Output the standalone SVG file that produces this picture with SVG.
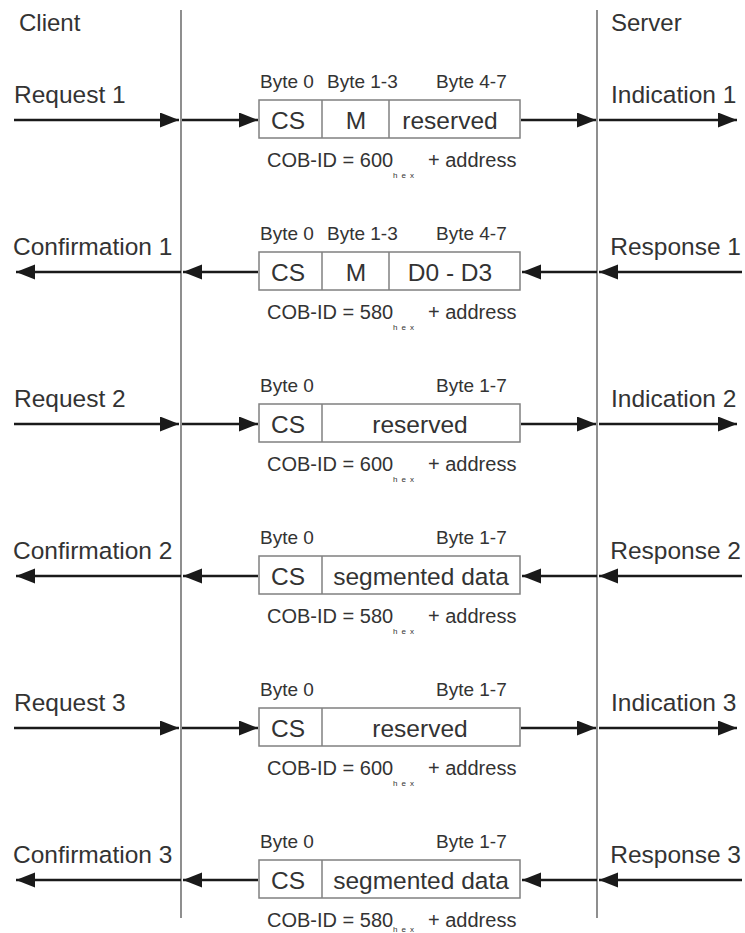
<svg xmlns="http://www.w3.org/2000/svg" width="745" height="933" viewBox="0 0 745 933">
  <style>
    text { font-family: "Liberation Sans", Arial, sans-serif; fill: #333333; }
    .lbl { font-size: 24.5px; }
    .hdr { font-size: 24px; }
    .byte { font-size: 19px; }
    .cell { font-size: 24.5px; text-anchor: middle; }
    .cob { font-size: 20px; }
    .hex { font-size: 8px; letter-spacing: 4px; }
    .end { text-anchor: end; }
    .frame { fill: #ffffff; stroke: #808080; stroke-width: 1.5; }
    .div { stroke: #808080; stroke-width: 1.5; }
    .life { stroke: #444444; stroke-width: 1.2; }
    .arr { stroke: #1a1a1a; stroke-width: 2.5; fill: none; marker-end: url(#head); }
  </style>
  <defs>
    <marker id="head" markerUnits="userSpaceOnUse" markerWidth="20" markerHeight="16" refX="19" refY="7.5" orient="auto">
      <path d="M0,0 L19,7.5 L0,15 Z" fill="#1a1a1a"/>
    </marker>
  </defs>
  <rect width="745" height="933" fill="#ffffff"/>

  <!-- lifelines -->
  <g id="lifelines">
    <line class="life" x1="181" y1="10" x2="181" y2="918"/>
    <line class="life" x1="597" y1="10" x2="597" y2="918"/>
    <text class="hdr" x="19" y="31">Client</text>
    <text class="hdr" x="611" y="31">Server</text>
  </g>

  <!-- connectors -->
  <g id="connectors">
    <!-- row 1: request -->
    <line class="arr" x1="14" y1="120" x2="179" y2="120"/>
    <line class="arr" x1="182" y1="120" x2="258" y2="120"/>
    <line class="arr" x1="521" y1="120" x2="596" y2="120"/>
    <line class="arr" x1="599" y1="120" x2="737" y2="120"/>
    <!-- row 2: response -->
    <line class="arr" x1="181" y1="272" x2="16" y2="272"/>
    <line class="arr" x1="258" y1="272" x2="183" y2="272"/>
    <line class="arr" x1="597" y1="272" x2="522" y2="272"/>
    <line class="arr" x1="742" y1="272" x2="599" y2="272"/>
    <!-- row 3 -->
    <line class="arr" x1="14" y1="424" x2="179" y2="424"/>
    <line class="arr" x1="182" y1="424" x2="258" y2="424"/>
    <line class="arr" x1="521" y1="424" x2="596" y2="424"/>
    <line class="arr" x1="599" y1="424" x2="737" y2="424"/>
    <!-- row 4 -->
    <line class="arr" x1="181" y1="576" x2="16" y2="576"/>
    <line class="arr" x1="258" y1="576" x2="183" y2="576"/>
    <line class="arr" x1="597" y1="576" x2="522" y2="576"/>
    <line class="arr" x1="742" y1="576" x2="599" y2="576"/>
    <!-- row 5 -->
    <line class="arr" x1="14" y1="728" x2="179" y2="728"/>
    <line class="arr" x1="182" y1="728" x2="258" y2="728"/>
    <line class="arr" x1="521" y1="728" x2="596" y2="728"/>
    <line class="arr" x1="599" y1="728" x2="737" y2="728"/>
    <!-- row 6 -->
    <line class="arr" x1="181" y1="880" x2="16" y2="880"/>
    <line class="arr" x1="258" y1="880" x2="183" y2="880"/>
    <line class="arr" x1="597" y1="880" x2="522" y2="880"/>
    <line class="arr" x1="742" y1="880" x2="599" y2="880"/>
  </g>

  <!-- row 1 -->
  <g id="request1">
    <text class="lbl" x="14" y="103">Request 1</text>
    <text class="lbl" x="611" y="103">Indication 1</text>
    <text class="byte" x="260" y="88">Byte 0</text>
    <text class="byte" x="327" y="88">Byte 1-3</text>
    <text class="byte" x="436" y="88">Byte 4-7</text>
    <rect class="frame" x="259" y="100" width="261" height="38"/>
    <line class="div" x1="322" y1="100" x2="322" y2="138"/>
    <line class="div" x1="389" y1="100" x2="389" y2="138"/>
    <text class="cell" x="288" y="129">CS</text>
    <text class="cell" x="356" y="129">M</text>
    <text class="cell" x="450" y="129">reserved</text>
    <text class="cob" x="267" y="166.5">COB-ID = 600</text>
    <text class="hex" x="393" y="178">hex</text>
    <text class="cob" x="428" y="166.5">+ address</text>
  </g>

  <!-- row 2 -->
  <g id="response1">
    <text class="lbl" x="13" y="255">Confirmation 1</text>
    <text class="lbl end" x="741" y="255">Response 1</text>
    <text class="byte" x="260" y="240">Byte 0</text>
    <text class="byte" x="327" y="240">Byte 1-3</text>
    <text class="byte" x="436" y="240">Byte 4-7</text>
    <rect class="frame" x="259" y="252" width="261" height="38"/>
    <line class="div" x1="322" y1="252" x2="322" y2="290"/>
    <line class="div" x1="389" y1="252" x2="389" y2="290"/>
    <text class="cell" x="288" y="281">CS</text>
    <text class="cell" x="356" y="281">M</text>
    <text class="cell" x="450" y="281">D0 - D3</text>
    <text class="cob" x="267" y="318.5">COB-ID = 580</text>
    <text class="hex" x="393" y="330">hex</text>
    <text class="cob" x="428" y="318.5">+ address</text>
  </g>

  <!-- row 3 -->
  <g id="request2">
    <text class="lbl" x="14" y="407">Request 2</text>
    <text class="lbl" x="611" y="407">Indication 2</text>
    <text class="byte" x="260" y="392">Byte 0</text>
    <text class="byte" x="436" y="392">Byte 1-7</text>
    <rect class="frame" x="259" y="404" width="261" height="38"/>
    <line class="div" x1="322" y1="404" x2="322" y2="442"/>
    <text class="cell" x="288" y="433">CS</text>
    <text class="cell" x="420" y="433">reserved</text>
    <text class="cob" x="267" y="470.5">COB-ID = 600</text>
    <text class="hex" x="393" y="482">hex</text>
    <text class="cob" x="428" y="470.5">+ address</text>
  </g>

  <!-- row 4 -->
  <g id="response2">
    <text class="lbl" x="13" y="559">Confirmation 2</text>
    <text class="lbl end" x="741" y="559">Response 2</text>
    <text class="byte" x="260" y="544">Byte 0</text>
    <text class="byte" x="436" y="544">Byte 1-7</text>
    <rect class="frame" x="259" y="556" width="261" height="38"/>
    <line class="div" x1="322" y1="556" x2="322" y2="594"/>
    <text class="cell" x="288" y="585">CS</text>
    <text class="cell" x="421" y="585">segmented data</text>
    <text class="cob" x="267" y="622.5">COB-ID = 580</text>
    <text class="hex" x="393" y="634">hex</text>
    <text class="cob" x="428" y="622.5">+ address</text>
  </g>

  <!-- row 5 -->
  <g id="request3">
    <text class="lbl" x="14" y="711">Request 3</text>
    <text class="lbl" x="611" y="711">Indication 3</text>
    <text class="byte" x="260" y="696">Byte 0</text>
    <text class="byte" x="436" y="696">Byte 1-7</text>
    <rect class="frame" x="259" y="708" width="261" height="38"/>
    <line class="div" x1="322" y1="708" x2="322" y2="746"/>
    <text class="cell" x="288" y="737">CS</text>
    <text class="cell" x="420" y="737">reserved</text>
    <text class="cob" x="267" y="774.5">COB-ID = 600</text>
    <text class="hex" x="393" y="786">hex</text>
    <text class="cob" x="428" y="774.5">+ address</text>
  </g>

  <!-- row 6 -->
  <g id="response3">
    <text class="lbl" x="13" y="863">Confirmation 3</text>
    <text class="lbl end" x="741" y="863">Response 3</text>
    <text class="byte" x="260" y="848">Byte 0</text>
    <text class="byte" x="436" y="848">Byte 1-7</text>
    <rect class="frame" x="259" y="860" width="261" height="38"/>
    <line class="div" x1="322" y1="860" x2="322" y2="898"/>
    <text class="cell" x="288" y="889">CS</text>
    <text class="cell" x="421" y="889">segmented data</text>
    <text class="cob" x="267" y="926.5">COB-ID = 580</text>
    <!-- subscript raised just enough to stay inside the canvas -->
    <text class="hex" x="393" y="932">hex</text>
    <text class="cob" x="428" y="926.5">+ address</text>
  </g>
</svg>
